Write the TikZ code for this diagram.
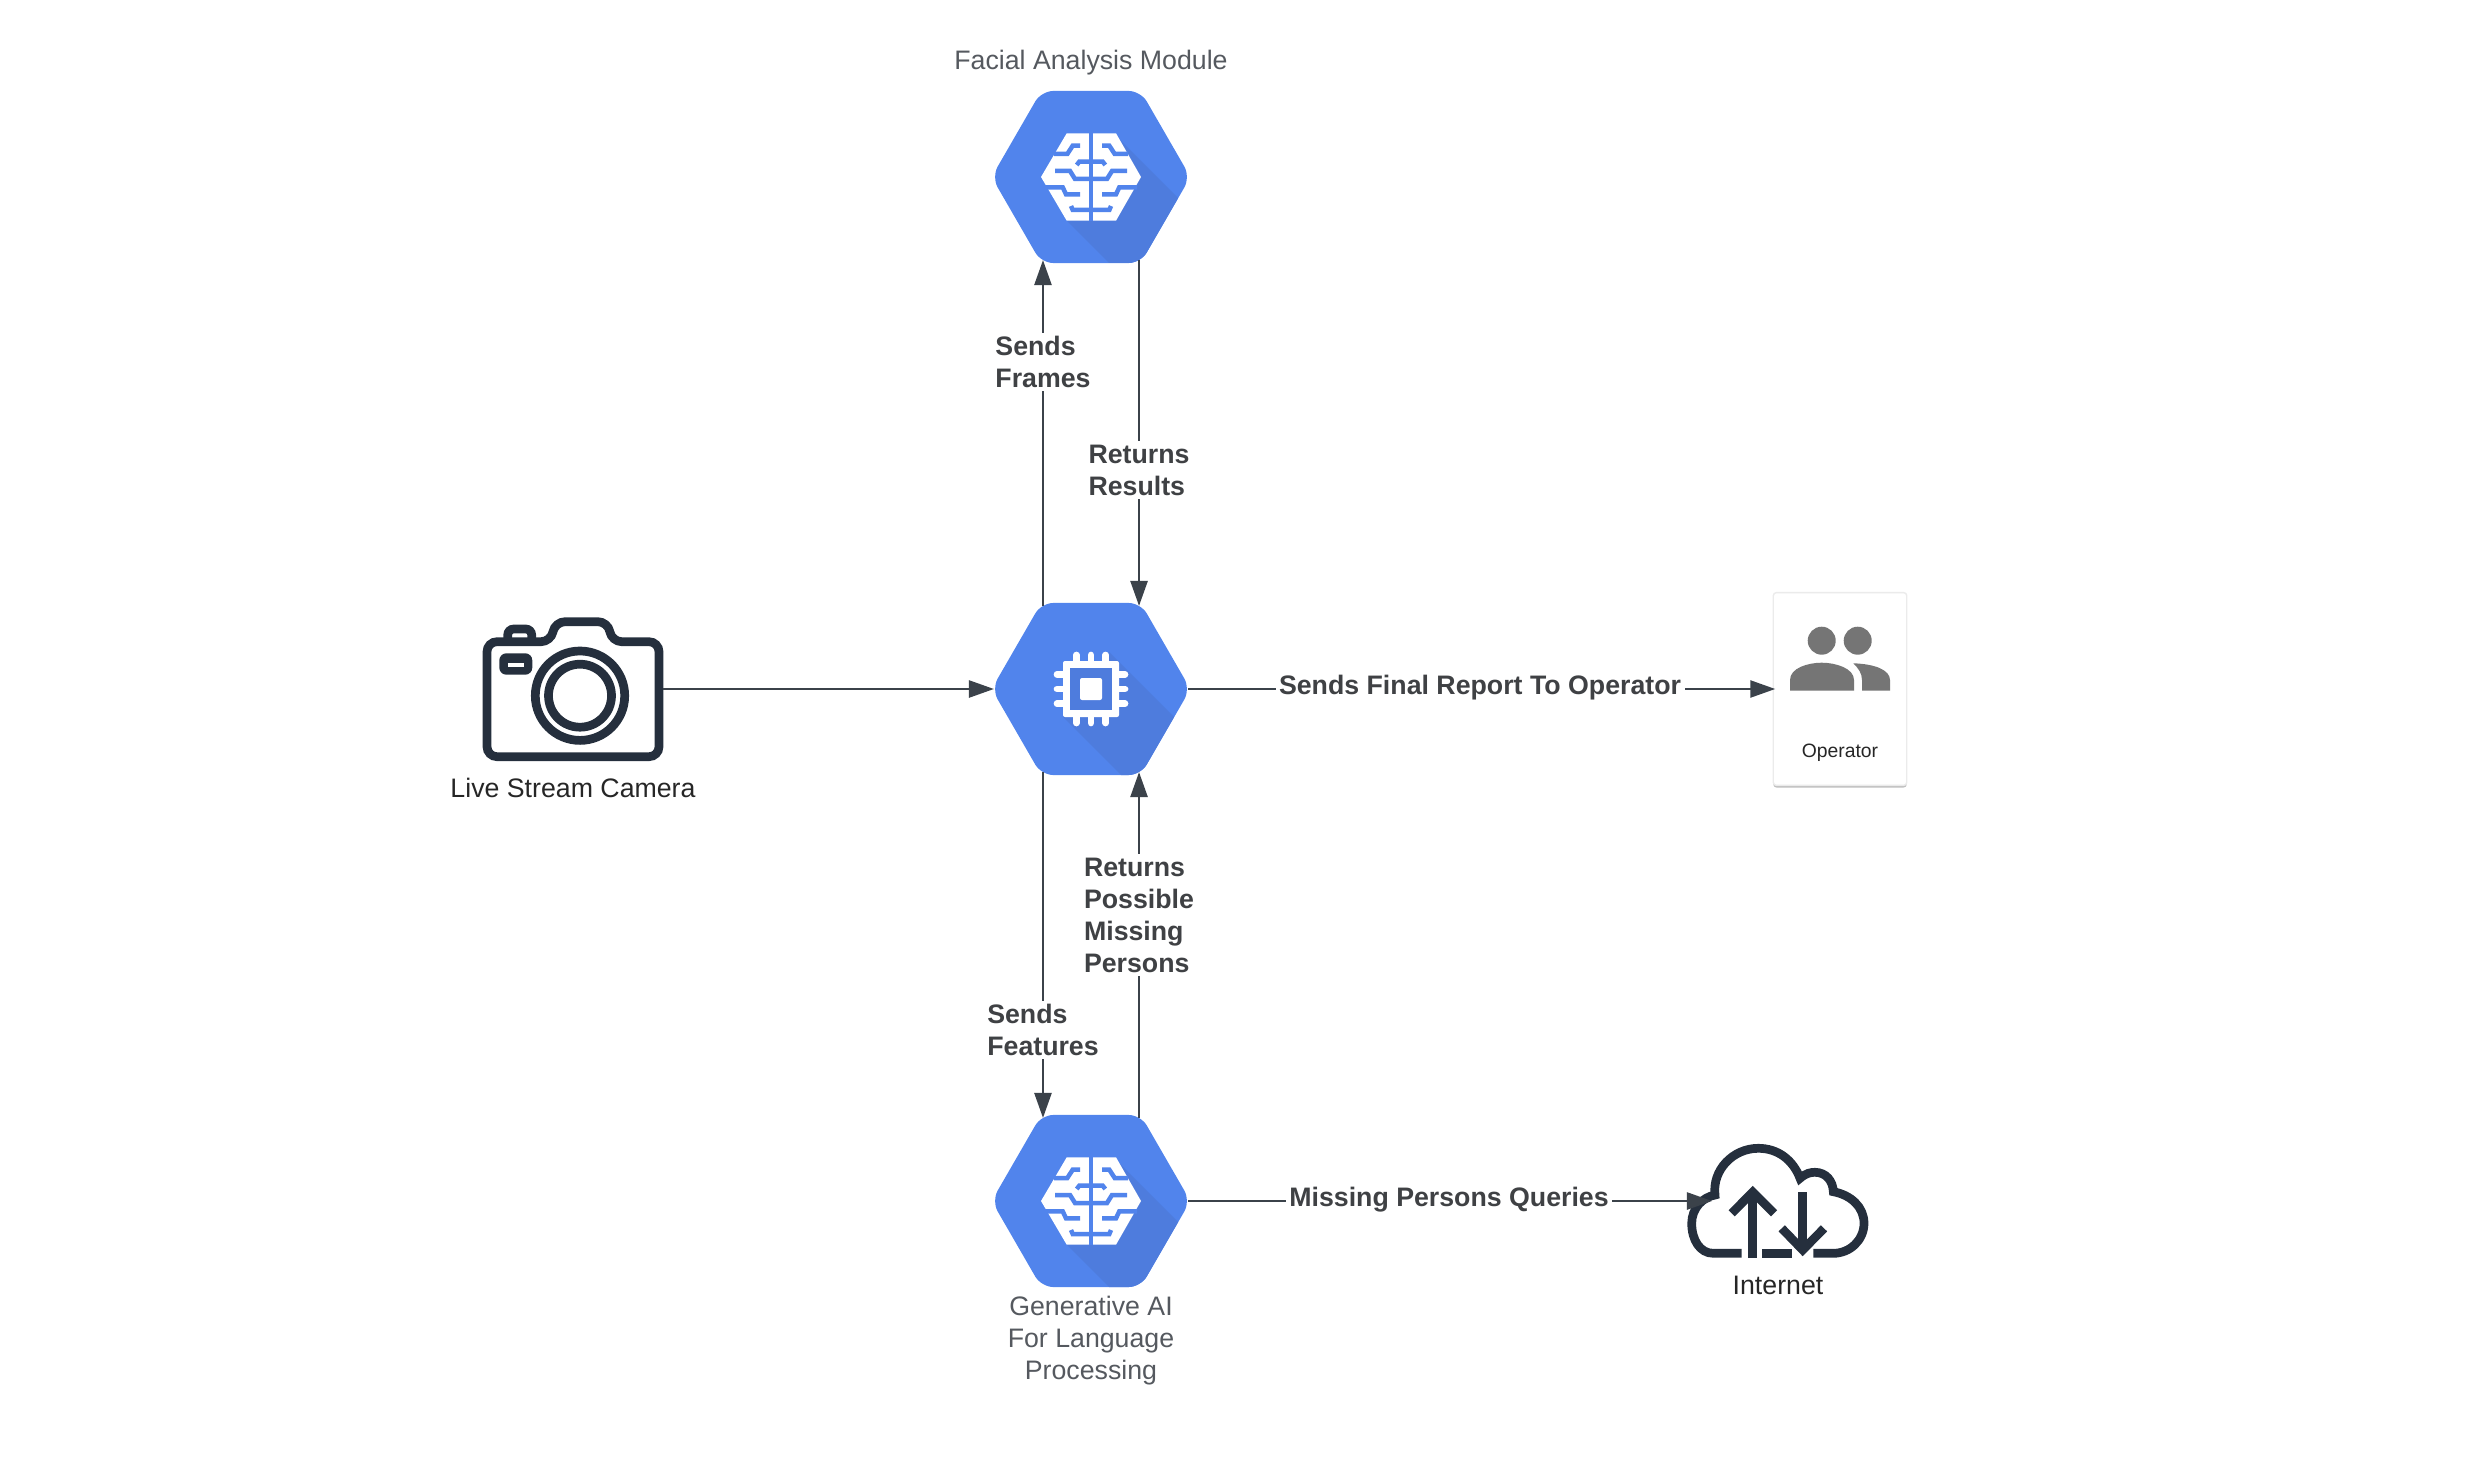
\documentclass[tikz,border=0pt]{standalone}
\usepackage{fontspec}
\setmainfont{Liberation Sans}
\usepackage{tikz}
\usetikzlibrary{arrows.meta,positioning,shapes.geometric}
\definecolor{hexblue}{HTML}{5184EC}
\definecolor{hexshade}{HTML}{4E7CDD}
\definecolor{linkgray}{HTML}{3B424A}
\definecolor{labelink}{HTML}{3F4144}
\definecolor{iconink}{HTML}{252F3D}
\definecolor{peoplegray}{HTML}{757575}
\definecolor{captiongray}{HTML}{55595F}
\newcommand{\hexpath}{(-49.6,-86)--(49.6,-86)--(99.3,0)--(49.6,86)--(-49.6,86)--(-99.3,0)--cycle}
\tikzset{
  hexnode/.style={regular polygon, regular polygon sides=6, minimum size=1.986cm, inner sep=0pt, outer sep=0pt, fill=hexblue, rounded corners=.12cm},
  link/.style={-{Triangle[length=.25cm,width=.17cm]}, draw=linkgray, line width=.025cm},
  hexlink/.style={link, shorten >=-.03cm, shorten <=-.03cm},
  linklabel/.style={font=\fontsize{7.6}{9.1}\selectfont\bfseries, text=labelink, fill=white, inner sep=1pt, align=left},
  caption/.style={font=\fontsize{7.6}{9.1}\selectfont, text=captiongray, align=center, inner sep=0pt},
  iconbox/.style={minimum width=#1, minimum height=1cm, inner sep=0pt, outer sep=0pt},
  iconline/.style={draw=iconink, line width=.087cm},
  brainicon/.pic={
    \begin{scope}
      \clip[rounded corners=.12cm] \hexpath;
      \fill[hexshade] (29,-37) -- (140,74) -- (140,108) -- (40,108) -- (-24,44) -- cycle;
    \end{scope}
    \fill[white] (-24.3,-43.7) -- (25,-43.7) -- (50,0) -- (25,43.7) -- (-24.3,43.7) -- (-50,0) -- cycle;
    \fill[hexblue] (-2.3,-44) rectangle (2.3,44);
    \foreach \s in {1,-1} {
      \begin{scope}[xscale=\s, draw=hexblue, line width=.045cm]
        \draw (-37,-23) -- (-23.7,-23) -- (-18.3,-31.3) -- (-11,-31.3);
        \draw (-14.3,-12) -- (-11.7,-15.3) -- (0,-15.3);
        \draw (-36,-6) -- (-21,-6) -- (-16,2) -- (0,2);
        \draw (-46,10.3) -- (-28.3,10.3) -- (-25,17.3) -- (-11,17.3);
        \draw (-20,29) -- (-18.3,33) -- (0,33);
      \end{scope}
    }
  },
  chipicon/.pic={
    \begin{scope}
      \clip[rounded corners=.12cm] \hexpath;
      \fill[hexshade] (18,-37) -- (140,85) -- (140,110) -- (54,110) -- (-28,28) -- cycle;
    \end{scope}
    \foreach \p in {-14.7,0,14.7} {
      \draw[white, line width=.067cm, line cap=round] (\p,-34) -- (\p,34);
      \draw[white, line width=.067cm, line cap=round] (-34,\p) -- (34,\p);
    }
    \fill[white, rounded corners=.02cm] (-28,-28) rectangle (28,28);
    \fill[hexshade] (-21,-21) rectangle (21,21);
    \fill[white, rounded corners=.02cm] (-11,-11) rectangle (11,11);
  }
}
\begin{document}
\begin{tikzpicture}[x=.01cm, y=-.01cm]
\useasboundingbox (0,0) rectangle (2476,1470);
% hexagons
\node[hexnode] (facial) at (1091,177) {};
\node[hexnode] (core) at (1091,689) {};
\node[hexnode] (genai) at (1091,1201) {};
\pic at (1091,177) {brainicon};
\pic at (1091,689) {chipicon};
\pic at (1091,1201) {brainicon};
\node[caption] (facialCaption) at (1091,63) {Facial Analysis Module};
\node[caption] (genaiCaption) at (1091,1341) {Generative AI\\For Language\\Processing};
% camera
\node[iconbox=1.8cm] (camera) at (573,689) {};
\draw[iconline, rounded corners=.1cm] (611.7,641.7) -- (659,641.7) -- (659,756.7) -- (487,756.7) -- (487,641.7) -- (551,641.7) -- (555,621.7) -- (608,621.7) -- cycle;
\draw[iconline, rounded corners=.06cm] (507.7,641.7) -- (507.7,629) -- (531.7,629) -- (531.7,641.7);
\fill[iconink, rounded corners=.07cm] (499.3,653.3) rectangle (532.3,674.7);
\fill[white] (508,662.7) rectangle (524,666.7);
\draw[iconline] (580,695.7) circle (44.7);
\draw[iconline] (580,695.7) circle (31.5);
\node[caption, text=black!85] (cameraCaption) at (573,788) {Live Stream Camera};
% operator card
\fill[black!25, rounded corners=.03cm] (1773.3,596) rectangle (1906.7,787.5);
\node[draw=black!8, fill=white, rounded corners=.03cm, minimum width=1.334cm, minimum height=1.926cm, inner sep=0pt, outer sep=0pt] (operator) at (1840,689) {};
\fill[peoplegray] (1821.7,640.7) circle (14);
\fill[peoplegray] (1857.7,640.7) circle (14);
\fill[peoplegray] (1790,690.7) -- (1790,680) .. controls (1790,668) and (1808,662.7) .. (1821.7,662.7) .. controls (1835,662.7) and (1854,668) .. (1854,680) -- (1854,690.7) -- cycle;
\fill[peoplegray] (1853.3,663.3) .. controls (1875,664) and (1890,670) .. (1890,680) -- (1890,690.7) -- (1862,690.7) -- (1862,680) .. controls (1862,673) and (1858,668) .. (1853.3,663.3) -- cycle;
\node[font=\fontsize{5.5}{7}\selectfont, text=black!85, inner sep=0pt] (operatorCaption) at (1840,753) {Operator};
% cloud
\node[iconbox=1.36cm] (cloud) at (1780,1201) {};
\draw[iconline] (1741.7,1253.3) -- (1713.3,1253.3) .. controls (1700,1253.3) and (1691.7,1240) .. (1691.7,1223.3) .. controls (1691.7,1208) and (1703,1197) .. (1715,1195) .. controls (1712,1170) and (1733,1148.3) .. (1758.3,1148.3) .. controls (1778,1148.3) and (1793,1160) .. (1800,1178.3) .. controls (1806,1173) and (1811,1172.3) .. (1815,1172.3) .. controls (1826,1172.3) and (1833,1181) .. (1833.3,1191.7) .. controls (1851,1195) and (1864,1207) .. (1864,1223.3) .. controls (1864,1240) and (1850,1253.3) .. (1833.3,1253.3) -- (1813.3,1253.3);
\draw[iconline] (1762.3,1253.3) -- (1792.3,1253.3);
\draw[iconline] (1752.7,1258) -- (1752.7,1193);
\draw[iconline] (1731.7,1213.3) -- (1752.7,1192) -- (1774,1213.3);
\draw[iconline] (1802.7,1192) -- (1802.7,1250);
\draw[iconline] (1781.7,1228.3) -- (1802.7,1250) -- (1824,1228.3);
\node[caption, text=black!85] (cloudCaption) at (1778,1285) {Internet};
% connectors
\draw[link] (camera.east) -- ([xshift=.023cm]core.west);
\draw[hexlink] ([xshift=-.48cm]core.north) -- ([xshift=-.48cm]facial.south);
\draw[hexlink] ([xshift=.48cm]facial.south) -- ([xshift=.48cm]core.north);
\draw[hexlink] ([xshift=-.48cm]core.south) -- ([xshift=-.48cm]genai.north);
\draw[hexlink] ([xshift=.48cm]genai.north) -- ([xshift=.48cm]core.south);
\draw[link] ([xshift=-.023cm]core.east) -- ([xshift=.02cm]operator.west);
\draw[link] ([xshift=-.023cm]genai.east) -- (cloud.west);
% labels
\node[linklabel] (framesLabel) at (1043,362) {Sends\\Frames};
\node[linklabel] (resultsLabel) at (1139,470) {Returns\\Results};
\node[linklabel] (personsLabel) at (1139,915) {Returns\\Possible\\Missing\\Persons};
\node[linklabel] (featuresLabel) at (1043,1030) {Sends\\Features};
\node[linklabel] (reportLabel) at (1480,688) {Sends Final Report To Operator};
\node[linklabel] (queriesLabel) at (1449,1200) {Missing Persons Queries};
\end{tikzpicture}
\end{document}
